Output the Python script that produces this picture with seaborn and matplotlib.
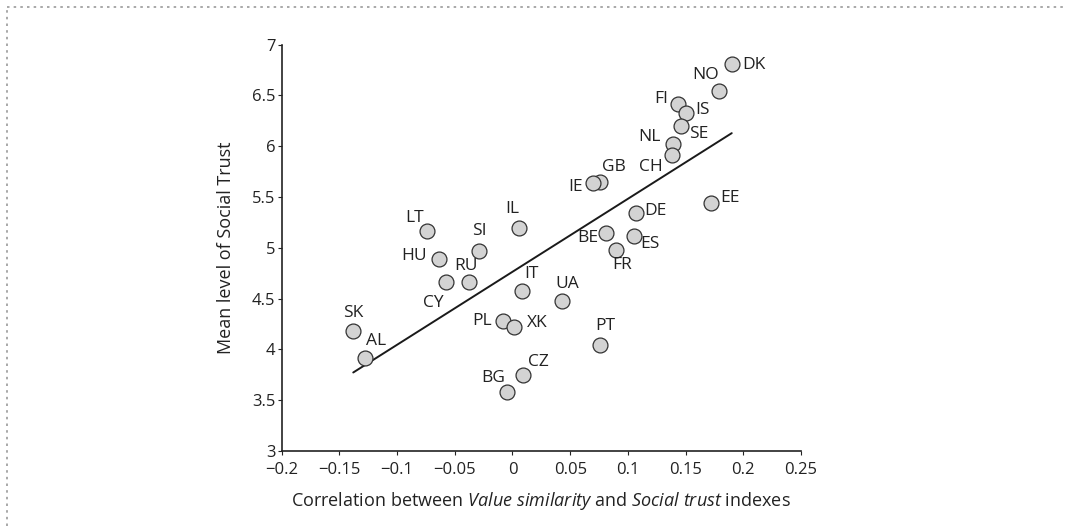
import numpy as np
import pandas as pd
import matplotlib
matplotlib.use("Agg")
import matplotlib.pyplot as plt
from matplotlib.lines import Line2D
import seaborn as sns

################################
# data
################################

countries = ["SK", "AL", "HU", "CY", "RU", "SI", "IT", "PL", "XK", "BG", "CZ",
             "LT", "IL", "DK", "NO", "FI", "IS", "SE", "NL", "CH", "GB", "IE",
             "EE", "DE", "BE", "ES", "FR", "UA", "PT"]
correlation = [-0.138, -0.128, -0.064, -0.058, -0.038, -0.029, 0.008, -0.008,
               0.001, -0.005, 0.009, -0.074, 0.006, 0.190, 0.179, 0.143, 0.150,
               0.146, 0.139, 0.138, 0.076, 0.070, 0.172, 0.107, 0.081, 0.105,
               0.090, 0.043, 0.076]
trust = [4.18, 3.92, 4.89, 4.66, 4.66, 4.97, 4.58, 4.28, 4.22, 3.58, 3.75,
         5.17, 5.20, 6.81, 6.54, 6.42, 6.33, 6.20, 6.02, 5.91, 5.65, 5.64,
         5.44, 5.34, 5.15, 5.12, 4.98, 4.48, 4.04]

# label offsets in points (dx, dy), picked to match where labels sit
label_offsets = {
    "SK": (0, 13), "AL": (8, 12), "HU": (-18, 2), "CY": (-9, -15),
    "RU": (-2, 12), "SI": (0, 14), "IT": (7, 12), "PL": (-15, 0),
    "XK": (17, 3), "BG": (-10, 10), "CZ": (11, 9), "LT": (-9, 9),
    "IL": (-5, 13), "DK": (16, -1), "NO": (-10, 12), "FI": (-12, 3),
    "IS": (12, 2), "SE": (13, -6), "NL": (-17, 5), "CH": (-15, -8),
    "GB": (10, 11), "IE": (-13, -3), "EE": (14, 4), "DE": (14, 2),
    "BE": (-13, -4), "ES": (12, -6), "FR": (4, -11), "UA": (4, 12),
    "PT": (4, 14),
}

df = pd.DataFrame({"country": countries, "corr": correlation, "trust": trust})

################################
# plot
################################

sns.set_style("ticks")
plt.rcParams["font.family"] = ["Open Sans", "DejaVu Sans"]
plt.rcParams["mathtext.fontset"] = "custom"
plt.rcParams["mathtext.rm"] = "Open Sans"
plt.rcParams["mathtext.it"] = "Open Sans:italic"

fig = plt.figure(figsize=(10.65, 5.26), dpi=100)
ax = fig.add_axes([0.2645, 0.1426, 0.4876, 0.7724])

sns.regplot(data=df, x="corr", y="trust", ci=None, ax=ax, truncate=True,
            scatter=False, line_kws={"color": "#1a1a1a", "lw": 1.4})
sns.scatterplot(data=df, x="corr", y="trust", ax=ax, s=115,
                color="#d3d3d3", edgecolor="#333333", linewidth=0.9, zorder=3)

for c, xv, yv in zip(countries, correlation, trust):
    dx, dy = label_offsets[c]
    ax.annotate(c, (xv, yv), xytext=(dx, dy), textcoords="offset points",
                ha="center", va="center", fontsize=12.5, color="#222222")

ax.set_xlim(-0.2, 0.25)
ax.set_ylim(3, 7)
ax.set_xticks(np.arange(-0.2, 0.26, 0.05))
ax.set_xticklabels(["\u22120.2", "\u22120.15", "\u22120.1", "\u22120.05", "0",
                    "0.05", "0.1", "0.15", "0.2", "0.25"])
ax.set_yticks(np.arange(3, 7.1, 0.5))
ax.set_yticklabels(["3", "3.5", "4", "4.5", "5", "5.5", "6", "6.5", "7"])
ax.tick_params(labelsize=12, length=3, width=0.8, colors="#222222")
ax.tick_params(axis="x", pad=5)
ax.tick_params(axis="y", pad=1.5)
for s in ["left", "bottom"]:
    ax.spines[s].set_linewidth(1.2)
    ax.spines[s].set_color("#222222")
sns.despine(ax=ax)

ax.set_xlabel(r"Correlation between $\mathit{Value\ similarity}$ and "
              r"$\mathit{Social\ trust}$ indexes", fontsize=13,
              color="#222222", va="center")
ax.set_ylabel("Mean level of Social Trust", fontsize=13, color="#222222",
              va="center")
ax.xaxis.set_label_coords(0.5, -0.122)
ax.yaxis.set_label_coords(-0.107, 0.5)

# dotted frame, top and left only
fig.add_artist(Line2D([0.0066, 1.0], [0.986, 0.986], transform=fig.transFigure,
                      color="#999999", lw=1.2, ls=(0, (1.5, 2.5))))
fig.add_artist(Line2D([0.0066, 0.0066], [0.0, 0.986], transform=fig.transFigure,
                      color="#999999", lw=1.2, ls=(0, (1.5, 2.5))))

fig.savefig("out.png", dpi=100)
